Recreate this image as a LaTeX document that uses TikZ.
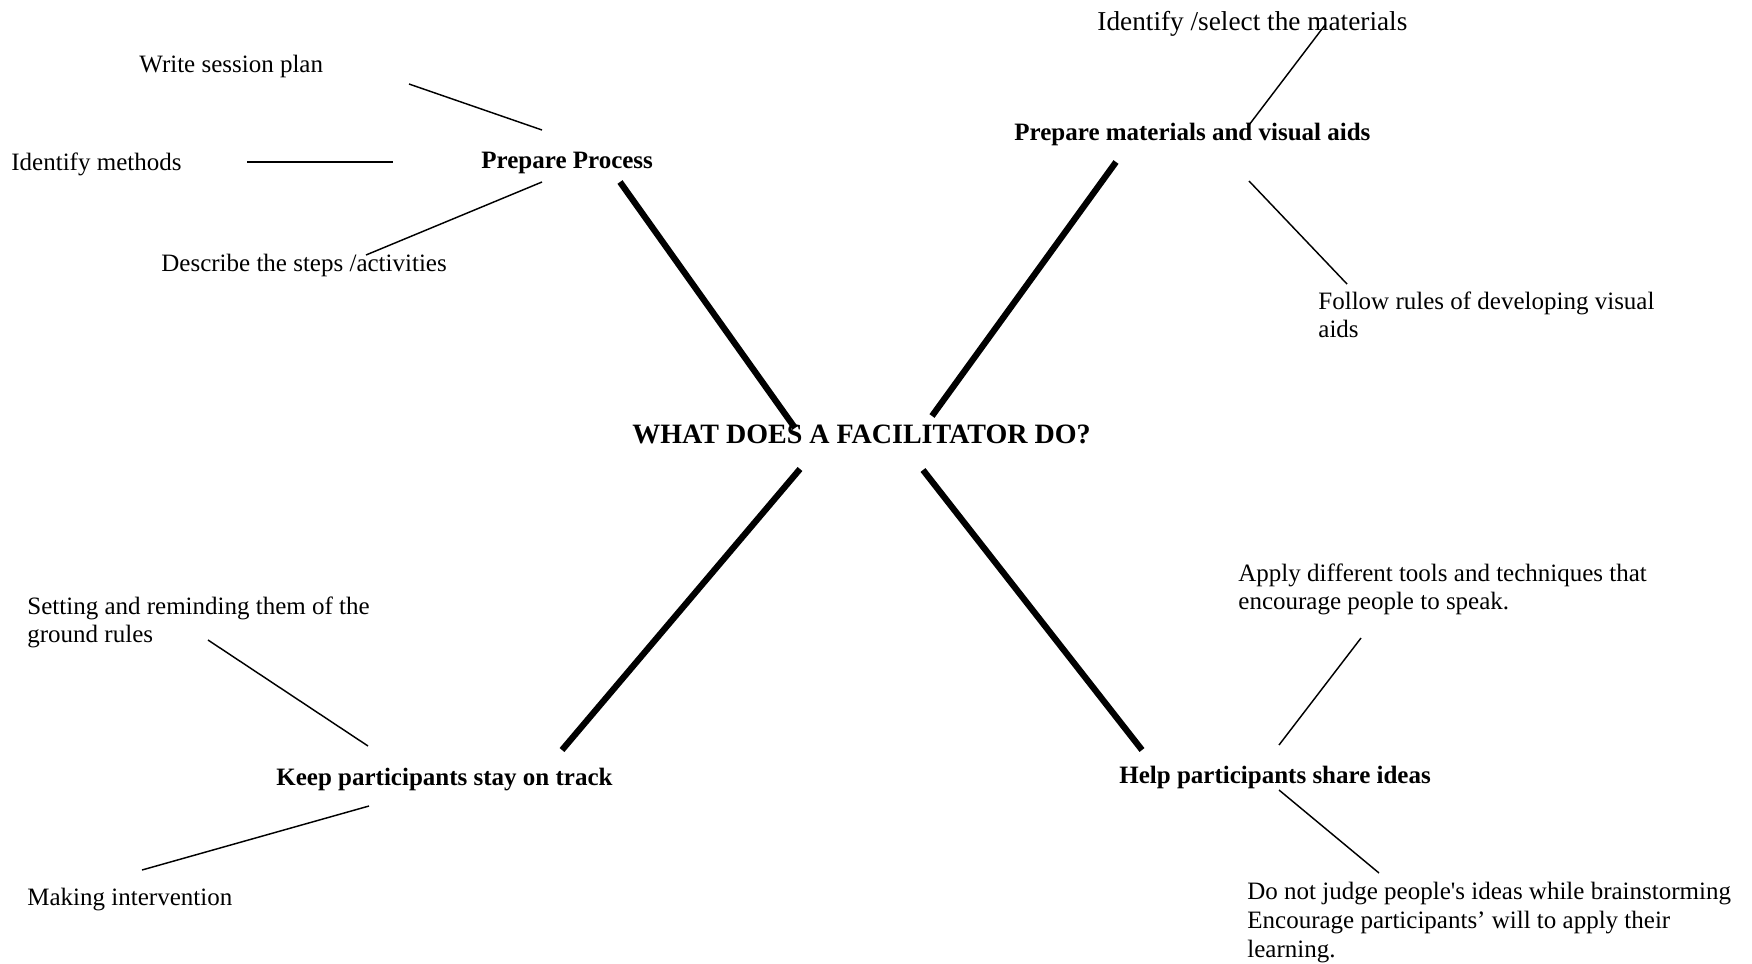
\documentclass[tikz,border=0pt]{standalone}
\usepackage{fontspec}
\setmainfont{Liberation Serif}
\begin{document}
\begin{tikzpicture}[x=0.48pt,y=-0.48pt,
  txt/.style={anchor=base west,inner sep=0pt,align=left,font=\fontsize{12}{13.9}\selectfont},
  bigtxt/.style={anchor=base west,inner sep=0pt,font=\fontsize{13.1}{15}\selectfont},
  head/.style={anchor=base west,inner sep=0pt,font=\fontsize{12}{13.9}\selectfont\bfseries},
  title/.style={anchor=base west,inner sep=0pt,font=\fontsize{13.45}{15}\selectfont\bfseries},
  thick branch/.style={line width=3pt},
  thin branch/.style={line width=0.7pt}]
\useasboundingbox[fill=white] (0,0) rectangle (1752,963);
% texts
\node[title] (center) at (632,443) {WHAT DOES A FACILITATOR DO?};
\node[head] (pp) at (481,168) {Prepare Process};
\node[head] (pm) at (1014,140) {Prepare materials and visual aids};
\node[head] (kp) at (276,785) {Keep participants stay on track};
\node[head] (hp) at (1119,783) {Help participants share ideas};
\node[txt] (wsp) at (139,72) {Write session plan};
\node[txt] (im) at (11,170) {Identify methods};
\node[txt] (dsa) at (161,271) {Describe the steps /activities};
\node[bigtxt] (ism) at (1097,30) {Identify /select the materials};
\node[txt,anchor=north west] (fr) at (1318,291) {Follow rules of developing visual\\aids};
\node[txt,anchor=north west] (ad) at (1238,563) {Apply different tools and techniques that\\encourage people to speak.};
\node[txt,anchor=north west] (sr) at (27,596) {Setting and reminding them of the\\ground rules};
\node[txt] (mi) at (27,905) {Making intervention};
\node[txt,anchor=north west] (dn) at (1247,882) {Do not judge people\textquotesingle s ideas while brainstorming\\Encourage participants’ will to apply their\\learning.};
% connector end points
\coordinate (c-pp) at (795,428);
\coordinate (c-pm) at (932,416);
\coordinate (c-kp) at (800,469);
\coordinate (c-hp) at (923,470);
\coordinate (pp-a) at (620,182);
\coordinate (pm-a) at (1116,162);
\coordinate (kp-a) at (562,750);
\coordinate (hp-a) at (1142,750);
\coordinate (wsp-a) at (409,84);
\coordinate (wsp-b) at (542,130);
\coordinate (im-a) at (247,162);
\coordinate (im-b) at (393,162);
\coordinate (dsa-a) at (366,255);
\coordinate (dsa-b) at (542,182);
\coordinate (ism-a) at (1325,25);
\coordinate (ism-b) at (1249,125);
\coordinate (fr-a) at (1249,181);
\coordinate (fr-b) at (1347,284);
\coordinate (sr-a) at (208,640);
\coordinate (sr-b) at (368,746);
\coordinate (mi-a) at (142,870);
\coordinate (mi-b) at (369,806);
\coordinate (ad-a) at (1361,638);
\coordinate (ad-b) at (1279,745);
\coordinate (dn-a) at (1279,790);
\coordinate (dn-b) at (1379,873);
% thick branches
\draw[thick branch] (pp-a) -- (c-pp);
\draw[thick branch] (pm-a) -- (c-pm);
\draw[thick branch] (kp-a) -- (c-kp);
\draw[thick branch] (hp-a) -- (c-hp);
% thin branches
\draw[thin branch] (wsp-a) -- (wsp-b);
\draw[thin branch] (im-a) -- (im-b);
\draw[thin branch] (dsa-a) -- (dsa-b);
\draw[thin branch] (ism-a) -- (ism-b);
\draw[thin branch] (fr-a) -- (fr-b);
\draw[thin branch] (sr-a) -- (sr-b);
\draw[thin branch] (mi-a) -- (mi-b);
\draw[thin branch] (ad-a) -- (ad-b);
\draw[thin branch] (dn-a) -- (dn-b);
\end{tikzpicture}
\end{document}
